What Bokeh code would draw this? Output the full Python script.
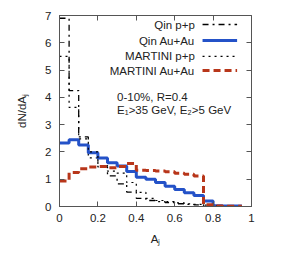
import numpy as np
from bokeh.plotting import figure
from bokeh.models import LinearAxis, Range1d, FixedTicker, Label, CustomJSTickFormatter
from bokeh.embed import file_html
from bokeh.resources import INLINE

# bin edges of A_j histograms
edges = [0.0, 0.05, 0.1, 0.15, 0.2, 0.25, 0.3, 0.35, 0.4, 0.45, 0.5,
         0.55, 0.6, 0.65, 0.7, 0.75, 0.8, 0.85, 0.9, 0.95]
qin_pp = [6.9, 4.25, 2.55, 1.78, 1.45, 1.12, 0.83, 0.53, 0.3, 0.22,
          0.18, 0.14, 0.1, 0.08, 0.06, 0.04, 0.02, 0.01, 0.0]
qin_aa = [2.33, 2.45, 2.25, 1.97, 1.78, 1.6, 1.48, 1.28, 1.07, 1.0,
          0.88, 0.74, 0.62, 0.5, 0.4, 0.2, 0.03, 0.02, 0.02]
mart_pp = [5.5, 3.63, 2.48, 2.0, 1.5, 1.3, 1.22, 0.88, 0.52, 0.3,
           0.22, 0.18, 0.13, 0.1, 0.08, 0.05, 0.03, 0.01, 0.0]
mart_aa = [0.93, 1.25, 1.38, 1.45, 1.47, 1.42, 1.47, 1.58, 1.33, 1.32,
           1.3, 1.27, 1.22, 1.18, 1.12, 0.06, 0.02, 0.01, 0.01]

labels = ["Qin p+p", "Qin Au+Au", "MARTINI p+p", "MARTINI Au+Au"]
x_ticks = [0, 0.2, 0.4, 0.6, 0.8, 1]
y_ticks = [0, 1, 2, 3, 4, 5, 6, 7]

FONT = "Liberation Sans"
AXC = "#555555"

p = figure(frame_width=192, frame_height=191, output_backend="svg", toolbar_location=None,
           x_range=Range1d(0, 1), y_range=Range1d(0, 7),
           min_border_left=59, min_border_right=20, min_border_top=15, min_border_bottom=44)
p.grid.visible = False
p.outline_line_color = AXC
p.outline_line_width = 1
p.background_fill_color = "white"
p.border_fill_color = "white"

styles = [
    dict(color="black", line_width=1.3, line_dash="dashdot"),
    dict(color="#2452c8", line_width=3, line_dash="solid"),
    dict(color="black", line_width=1.2, line_dash="dotted"),
    dict(color="#b8361a", line_width=3, line_dash="7 4"),
]
series = [qin_pp, qin_aa, mart_pp, mart_aa]
for vals, st in zip(series, styles):
    yy = list(vals) + [vals[-1]]
    p.step(edges, yy, mode="after", line_color=st["color"], line_width=st["line_width"],
           line_dash=st["line_dash"])

for ax in (p.xaxis[0], p.yaxis[0]):
    ax.major_tick_in = 5
    ax.major_tick_out = 0
    ax.minor_tick_line_color = None
    ax.axis_line_color = AXC
    ax.major_tick_line_color = AXC
    ax.major_label_text_font = FONT
    ax.major_label_text_font_size = "11.5px"
    ax.major_label_text_color = "#222222"
    ax.axis_label_text_font = FONT
    ax.axis_label_text_font_size = "11.5px"
    ax.axis_label_text_font_style = "normal"
    ax.axis_label_text_color = "#222222"

p.xaxis[0].ticker = FixedTicker(ticks=x_ticks)
p.yaxis[0].ticker = FixedTicker(ticks=y_ticks)
p.xaxis[0].major_label_standoff = 7
p.yaxis[0].major_label_standoff = 8
p.xaxis[0].axis_label = "Aⱼ"
p.yaxis[0].axis_label = "dN/dAⱼ"
p.xaxis[0].axis_label_standoff = 8
p.yaxis[0].axis_label_standoff = 14

blank = CustomJSTickFormatter(code="return '';")
top = LinearAxis(ticker=FixedTicker(ticks=x_ticks), formatter=blank)
right = LinearAxis(ticker=FixedTicker(ticks=y_ticks), formatter=blank)
for ax in (top, right):
    ax.major_tick_in = 5
    ax.major_tick_out = 0
    ax.minor_tick_line_color = None
    ax.axis_line_color = None
    ax.major_tick_line_color = AXC
    ax.major_label_standoff = 0
    ax.major_label_text_font_size = "1px"
p.add_layout(top, "above")
p.add_layout(right, "right")

# legend (gnuplot style: label right-aligned, sample to its right)
leg_y = [6.67, 6.08, 5.5, 4.98]
for lab, st, ly in zip(labels, styles, leg_y):
    p.line([0.745, 0.925], [ly, ly], line_color=st["color"], line_width=st["line_width"],
           line_dash=st["line_dash"])
    p.add_layout(Label(x=0.705, y=ly, text=lab, text_align="right", text_baseline="middle",
                       text_font=FONT, text_font_size="11.5px", text_color="#222222"))

p.add_layout(Label(x=0.30, y=4.03, text="0-10%, R=0.4", text_align="left",
                   text_baseline="middle", text_font=FONT, text_font_size="11.5px",
                   text_color="#222222"))
p.add_layout(Label(x=0.30, y=3.55, text="E₁>35 GeV, E₂>5 GeV", text_align="left",
                   text_baseline="middle", text_font=FONT, text_font_size="11.5px",
                   text_color="#222222"))

open("out.html", "w").write(file_html(p, INLINE))
